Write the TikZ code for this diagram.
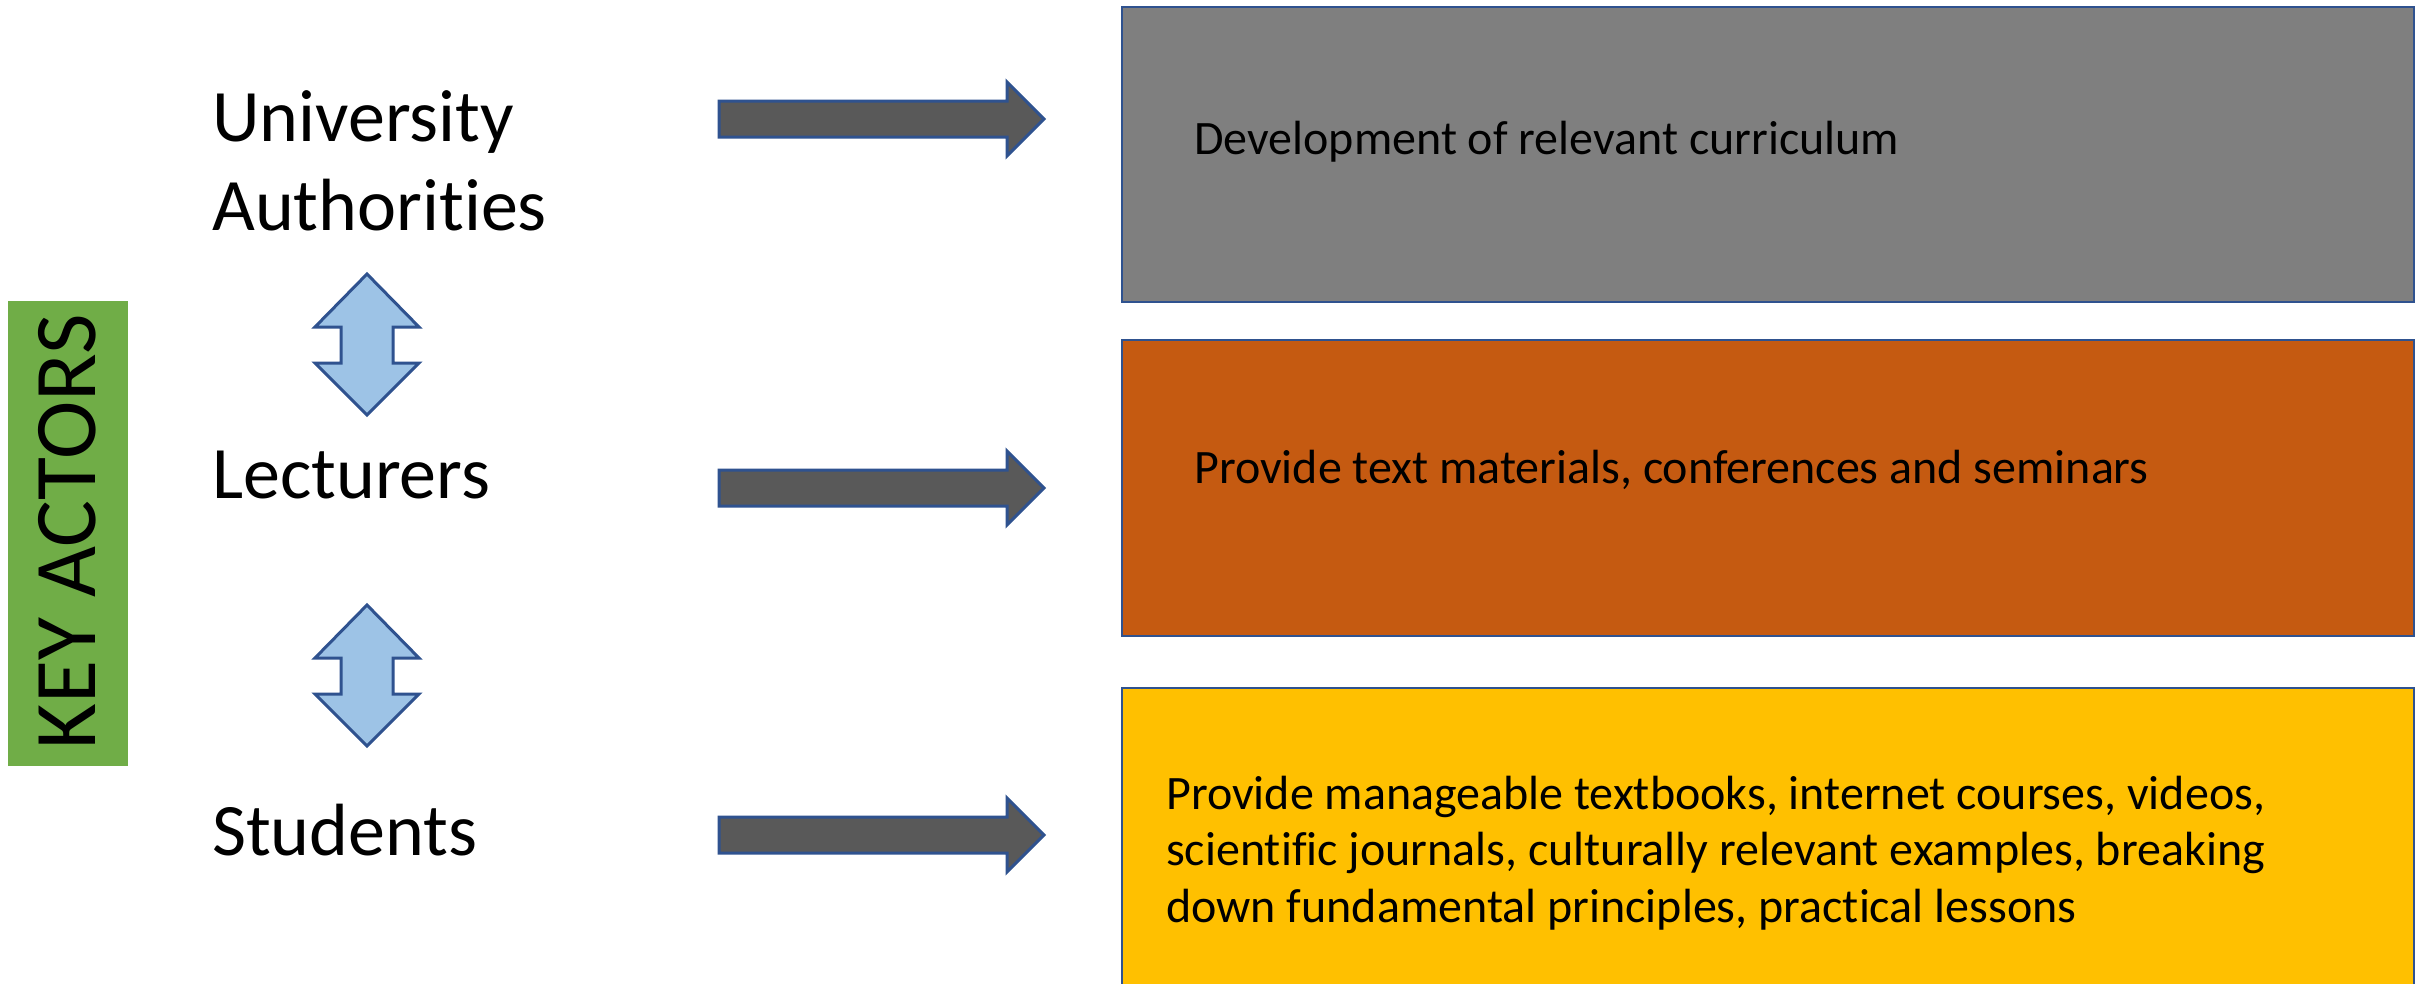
\documentclass[tikz,border=0pt]{standalone}
\usepackage{fontspec}
\setmainfont{Carlito}[RawFeature={-liga}]
\definecolor{boxgray}{HTML}{7F7F7F}
\definecolor{boxorange}{HTML}{C55A11}
\definecolor{boxyellow}{HTML}{FFC000}
\definecolor{keygreen}{HTML}{70AD47}
\definecolor{darkarrow}{HTML}{595959}
\definecolor{lightblue}{HTML}{9DC3E6}
\definecolor{outline}{HTML}{2F528F}
\begin{document}
\begin{tikzpicture}[x=1pt,y=-1pt,
  actor/.style={anchor=base west, inner sep=0, font=\fontsize{74}{90}\selectfont},
  boxtext/.style={anchor=base west, inner sep=0, font=\fontsize{48}{57}\selectfont},
  boxline/.style={draw=outline, line width=2.5pt},
  fatarrow/.style={draw=outline, line width=3pt, fill=darkarrow, line join=miter},
  dblarrow/.style={draw=outline, line width=3pt, fill=lightblue, line join=miter}]
\useasboundingbox (0,0) rectangle (2422,983);
\fill[white] (0,0) rectangle (2422,983);

% key actors
\fill[keygreen] (8,301) rectangle (128,766);
\node[rotate=90, inner sep=0, font=\fontsize{88}{100}\selectfont] (key) at (67,532) {KEY ACTORS};

% actors
\node[actor] (ua1) at (212,141) {University};
\node[actor] (ua2) at (212,230) {Authorities};
\node[actor] (lec) at (212,498) {Lecturers};
\node[actor] (stu) at (212,855) {Students};

% double arrows
\foreach \t in {0,331} {
  \draw[dblarrow] (367,274+\t) -- (419,327+\t) -- (393,327+\t) -- (393,363+\t) -- (419,363+\t)
    -- (367,415+\t) -- (315,363+\t) -- (341,363+\t) -- (341,327+\t) -- (315,327+\t) -- cycle;
}

% right arrows
\foreach \c in {119,488,835} {
  \draw[fatarrow] (719,\c-18) -- (1007,\c-18) -- (1007,\c-37) -- (1044,\c) -- (1007,\c+37)
    -- (1007,\c+18) -- (719,\c+18) -- cycle;
}

% boxes
\draw[boxline, fill=boxgray] (1122,7) rectangle (2414,302);
\draw[boxline, fill=boxorange] (1122,340) rectangle (2414,636);
\draw[boxline, fill=boxyellow] (1122,688) rectangle (2414,995);

\node[boxtext] (t1) at (1194,154) {Development of relevant curriculum};
\node[boxtext] (t2) at (1194,483) {Provide text materials, conferences and seminars};
\node[boxtext] (t3a) at (1166,809) {Provide manageable textbooks, internet courses, videos,};
\node[boxtext] (t3b) at (1166,865) {scientific journals, culturally relevant examples, breaking};
\node[boxtext] (t3c) at (1166,922) {down fundamental principles, practical lessons};
\end{tikzpicture}
\end{document}
